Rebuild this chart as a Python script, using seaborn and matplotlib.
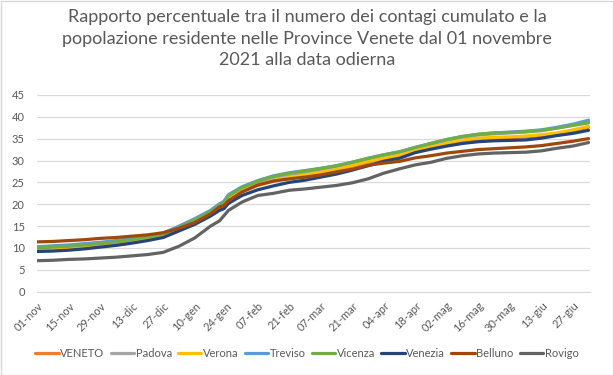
import matplotlib
matplotlib.use("Agg")
import matplotlib.pyplot as plt
import matplotlib.patches as mpatches
import pandas as pd
import seaborn as sns

# giorni dal 01 novembre 2021
days = [0, 7, 14, 21, 28, 35, 42, 49, 56, 63, 70, 77, 81, 83, 85, 91, 98, 105, 112, 119,
        126, 133, 140, 147, 154, 161, 168, 175, 182, 189, 196, 203, 210, 217, 224, 231, 238, 245]

veneto = [9.6, 9.8, 10.0, 10.2, 10.5, 10.9, 11.4, 12.0, 12.8, 14.3, 16.0, 17.8, 19.3, 19.9, 21.3,
          22.9, 24.3, 25.3, 26.0, 26.6, 27.2, 27.9, 28.7, 29.6, 30.4, 31.1, 32.1, 33.0, 33.8, 34.5,
          34.9, 35.1, 35.2, 35.4, 35.7, 36.1, 36.8, 37.6]
padova = [9.9, 10.1, 10.3, 10.6, 10.9, 11.3, 11.8, 12.4, 13.2, 14.8, 16.5, 18.4, 19.9, 20.5, 22.0,
          23.7, 25.0, 26.1, 26.8, 27.3, 27.9, 28.5, 29.3, 30.2, 31.0, 31.7, 32.7, 33.6, 34.5, 35.2,
          35.8, 36.1, 36.3, 36.5, 36.8, 37.4, 38.1, 39.0]
verona = [9.7, 9.8, 10.0, 10.3, 10.6, 11.0, 11.5, 12.1, 12.9, 14.4, 16.1, 17.9, 19.4, 20.0, 21.4,
          23.0, 24.4, 25.4, 26.1, 26.7, 27.3, 28.0, 28.9, 29.8, 30.6, 31.3, 32.3, 33.2, 34.0, 34.7,
          35.1, 35.3, 35.4, 35.6, 35.9, 36.3, 37.0, 37.8]
treviso = [10.3, 10.5, 10.7, 11.0, 11.3, 11.7, 12.2, 12.7, 13.4, 15.0, 16.7, 18.6, 20.1, 20.7, 22.2,
           24.0, 25.4, 26.5, 27.2, 27.7, 28.2, 28.8, 29.6, 30.5, 31.3, 32.0, 33.0, 33.9, 34.8, 35.5,
           36.0, 36.3, 36.5, 36.7, 37.0, 37.6, 38.3, 39.2]
vicenza = [10.0, 10.2, 10.4, 10.7, 11.0, 11.4, 11.9, 12.5, 13.2, 14.7, 16.4, 18.3, 19.8, 20.4, 21.9,
           23.8, 25.3, 26.4, 27.1, 27.6, 28.2, 28.8, 29.6, 30.5, 31.3, 32.0, 33.0, 33.9, 34.8, 35.5,
           36.0, 36.3, 36.4, 36.6, 36.9, 37.4, 38.0, 38.6]
venezia = [9.2, 9.3, 9.5, 9.8, 10.2, 10.6, 11.1, 11.7, 12.4, 13.9, 15.4, 17.3, 18.6, 19.0, 20.2,
           22.0, 23.3, 24.2, 25.0, 25.5, 26.2, 26.9, 27.8, 28.8, 29.8, 30.5, 31.8, 32.6, 33.3, 33.9,
           34.3, 34.5, 34.6, 34.7, 35.1, 35.7, 36.2, 36.9]
belluno = [11.4, 11.5, 11.7, 11.9, 12.2, 12.4, 12.7, 13.0, 13.5, 14.5, 15.8, 17.8, 19.4, 19.7, 20.8,
           22.8, 24.4, 25.3, 25.8, 26.2, 26.7, 27.4, 28.0, 28.9, 29.4, 29.8, 30.6, 31.1, 31.7, 32.1,
           32.5, 32.7, 32.9, 33.1, 33.4, 33.9, 34.4, 35.0]
rovigo = [7.1, 7.2, 7.4, 7.5, 7.7, 7.9, 8.2, 8.5, 9.0, 10.4, 12.3, 15.0, 16.2, 17.4, 18.6,
          20.5, 22.0, 22.5, 23.2, 23.5, 23.9, 24.3, 24.9, 25.8, 27.1, 28.1, 29.0, 29.6, 30.5, 31.1,
          31.5, 31.7, 31.8, 31.9, 32.2, 32.8, 33.3, 34.1]

province = ["VENETO", "Padova", "Verona", "Treviso", "Vicenza", "Venezia", "Belluno", "Rovigo"]
colori = ["#ED7D31", "#A5A5A5", "#FFC000", "#5B9BD5", "#70AD47", "#264478", "#9E480E", "#636363"]

tick_labels = ["01-nov", "15-nov", "29-nov", "13-dic", "27-dic", "10-gen", "24-gen", "07-feb",
               "21-feb", "07-mar", "21-mar", "04-apr", "18-apr", "02-mag", "16-mag", "30-mag",
               "13-giu", "27-giu"]

start = pd.Timestamp("2021-11-01")
serie = [veneto, padova, verona, treviso, vicenza, venezia, belluno, rovigo]
rows = []
for nome, valori in zip(province, serie):
    for d, v in zip(days, valori):
        rows.append({"data": start + pd.Timedelta(days=d), "valore": v, "provincia": nome})
df = pd.DataFrame(rows)

sns.set_style("white")
plt.rcParams["font.family"] = ["Lato", "DejaVu Sans"]
grigio = "#595959"

fig = plt.figure(figsize=(6.14, 3.75), dpi=100)
ax = fig.add_axes([0.0606, 0.222, 0.9005, 0.525])

sns.lineplot(data=df, x="data", y="valore", hue="provincia", hue_order=province,
             palette=colori, linewidth=2.3, ax=ax, legend=False)

ax.set_xlim(start, start + pd.Timedelta(days=245.7))
ax.set_ylim(0, 45)
ax.set_yticks(range(0, 46, 5))
ax.set_xticks([start + pd.Timedelta(days=14 * i) for i in range(len(tick_labels))])
ax.set_xticklabels(tick_labels, rotation=45, ha="right", rotation_mode="anchor")
ax.tick_params(axis="x", colors=grigio, labelsize=8, length=4, width=0.8, color="#d9d9d9", pad=2)
ax.tick_params(axis="y", colors=grigio, labelsize=8, length=0, pad=9)
ax.grid(axis="y", color="#d9d9d9", linewidth=0.9)
ax.set_axisbelow(True)
for s in ["top", "right", "left"]:
    ax.spines[s].set_visible(False)
ax.spines["bottom"].set_color("#d9d9d9")
ax.set_xlabel("")
ax.set_ylabel("")

fig.text(0.5, 0.975, "Rapporto percentuale tra il numero dei contagi cumulato e la\n"
         "popolazione residente nelle Province Venete dal 01 novembre\n"
         "2021 alla data odierna", ha="center", va="top", fontsize=13,
         color=grigio, linespacing=1.42)

handles = [plt.Line2D([], [], color=c, linewidth=2.3) for c in colori]
fig.legend(handles, province, loc="lower center", bbox_to_anchor=(0.5, 0.015), ncol=8,
           frameon=False, fontsize=8, handlelength=2.1, handletextpad=0.15,
           columnspacing=0.55, labelcolor=grigio)

fig.patches.append(mpatches.Rectangle((0.001, 0.001), 0.997, 0.996, transform=fig.transFigure,
                                      fill=False, edgecolor="#d9d9d9", linewidth=1))

fig.savefig("out.png", dpi=100)
